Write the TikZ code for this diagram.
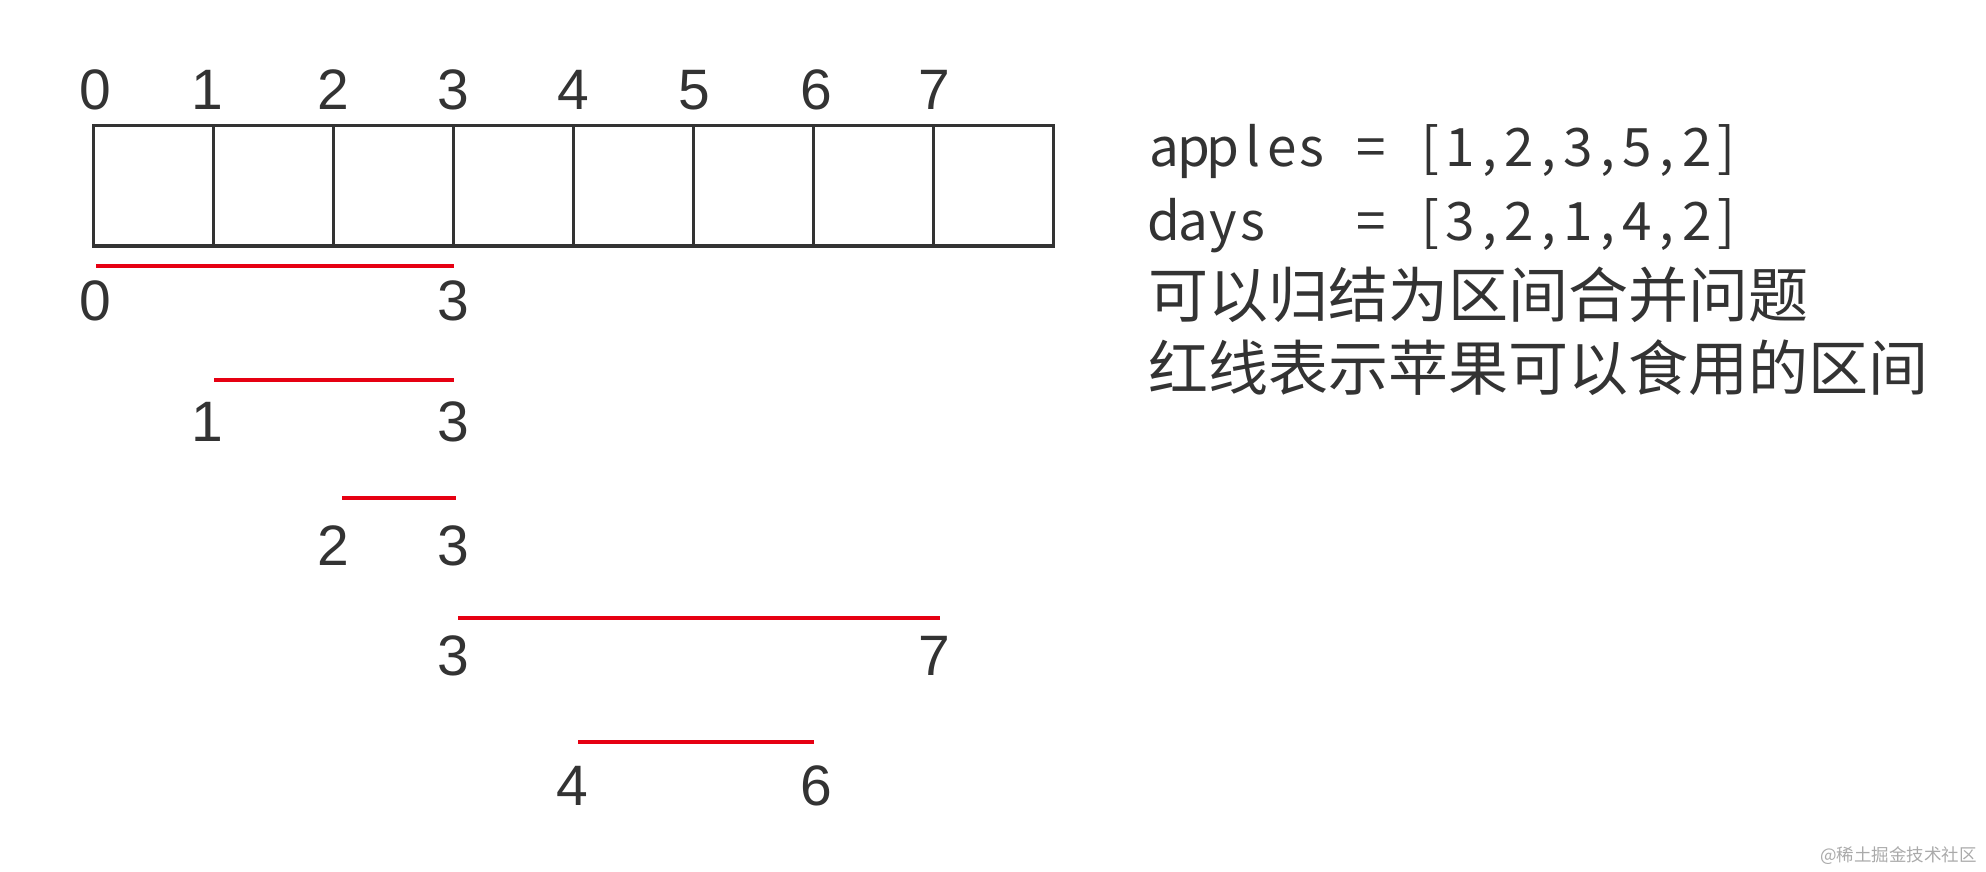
\documentclass[tikz,border=0pt]{standalone}
\usepackage{fontspec}
\setmainfont{Liberation Sans}
\newfontfamily\cjk{Noto Sans CJK SC}
\newfontfamily\digitfont{Liberation Sans}
\definecolor{ink}{HTML}{333333}
\definecolor{redln}{RGB}{230,0,18}
\definecolor{wm}{HTML}{AAAAAA}
\newlength\cellw
\setlength\cellw{29.6pt}
\def\monoloop#1{\ifx#1\relax\else\makebox[\cellw][c]{#1}\expandafter\monoloop\fi}
\newcommand\monotext[1]{\monoloop#1\relax}
\tikzset{
  num/.style={font=\digitfont\fontsize{57}{60}\selectfont, text=ink, inner sep=0, anchor=base},
  boxline/.style={draw=ink, line width=3.6pt},
  interval/.style={draw=redln, line width=3.6pt},
  rtext/.style={font=\cjk\fontsize{60}{72}\selectfont, text=ink, inner sep=0, anchor=base west},
  mtext/.style={font=\cjk\fontsize{53}{64}\selectfont, text=ink, inner sep=0, anchor=base west},
}
\begin{document}
\begin{tikzpicture}[x=1pt,y=-1pt]
\useasboundingbox (0,0) rectangle (1986,872);
% array box
\draw[boxline] (93.3,125.7) rectangle (1053.3,245.7);
\foreach \k in {1,...,7} {
  \draw[boxline] ({93.3+120*\k},125.7) -- ({93.3+120*\k},245.7);
}
% header indices
\foreach \k/\dx in {0/2,1/-6,2/0,3/0,4/0,5/1,6/3,7/1} {
  \node[num] (h\k) at ({93.3+120*\k+\dx},110) {\k};
}
% intervals
\coordinate (a1) at (96,265.7);  \coordinate (b1) at (454,265.7);
\coordinate (a2) at (214,380);   \coordinate (b2) at (454,380);
\coordinate (a3) at (342,497.7); \coordinate (b3) at (456,497.7);
\coordinate (a4) at (458,617.7); \coordinate (b4) at (940,617.7);
\coordinate (a5) at (578,741.7); \coordinate (b5) at (814,741.7);
\foreach \i in {1,...,5} { \draw[interval] (a\i) -- (b\i); }
% interval labels
\node[num] (l1a) at (95.5,320) {0};  \node[num] (l1b) at (453.3,320) {3};
\node[num] (l2a) at (207,441.7) {1}; \node[num] (l2b) at (453.3,441.7) {3};
\node[num] (l3a) at (333.3,565) {2}; \node[num] (l3b) at (453.3,565) {3};
\node[num] (l4a) at (453.3,675) {3}; \node[num] (l4b) at (934,675) {7};
\node[num] (l5a) at (572,805) {4};   \node[num] (l5b) at (816.7,805) {6};
% right text
\node[mtext] (apples) at (1149,167) {\monotext{apples~=~[1,2,3,5,2]}};
\node[mtext] (days) at (1149,240) {\monotext{days~~~=~[3,2,1,4,2]}};
\node[rtext] (note1) at (1148,317) {可以归结为区间合并问题};
\node[rtext] (note2) at (1148,390) {红线表示苹果可以食用的区间};
% watermark
\node[font=\cjk\fontsize{17.5}{20}\selectfont, text=wm, inner sep=0, anchor=base west] (wmark) at (1820,861) {@稀土掘金技术社区};
\end{tikzpicture}
\end{document}
